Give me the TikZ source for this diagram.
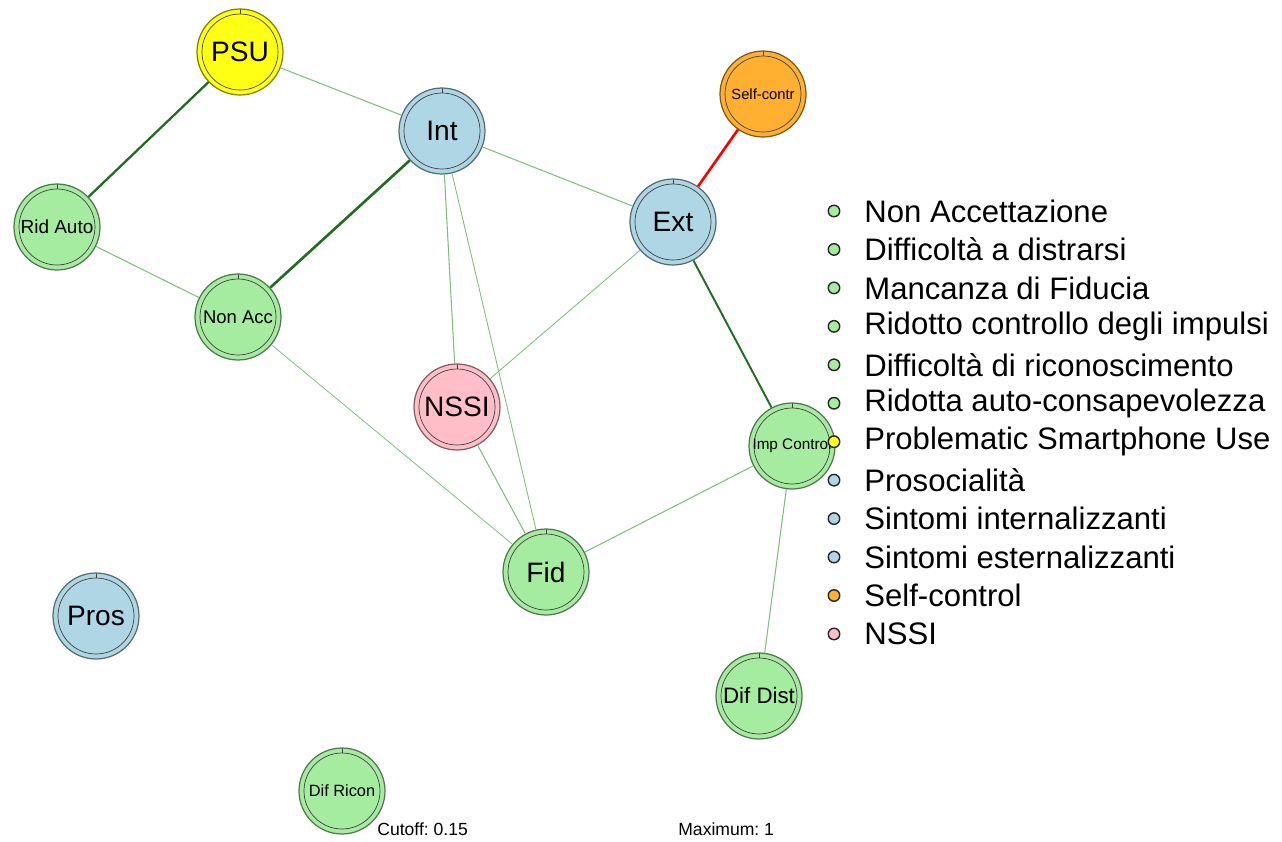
\documentclass[tikz,border=0pt]{standalone}
\usepackage{fontspec}
\setmainfont{Liberation Sans}
\usetikzlibrary{positioning}
\definecolor{symgreen}{RGB}{166, 236, 160}
\definecolor{symblue}{RGB}{174, 214, 228}
\definecolor{psuyellow}{RGB}{255, 255, 20}
\definecolor{selforange}{RGB}{255, 176, 48}
\definecolor{nssipink}{RGB}{255, 190, 200}
\definecolor{strongedge}{RGB}{30, 110, 30}
\definecolor{weakedge}{RGB}{125, 190, 125}
\frenchspacing

\begin{document}
\begin{tikzpicture}[
  x=0.02cm, y=-0.02cm,
  vnode/.style={circle, draw=#1!50!black, fill=#1, line width=0.7pt, minimum size=1.72cm, inner sep=0pt,
    path picture={
      \draw[black!75, line width=0.4pt] (path picture bounding box.center) circle (0.76cm);
      \draw[black!75, line width=0.4pt] (path picture bounding box.north) -- ++(0,-0.1cm);
    }},
  big/.style={font=\fontsize{16}{16}\selectfont},
  strong/.style={strongedge, line width=1.3pt},
  weak/.style={weakedge, line width=0.6pt},
  legdot/.style={circle, draw=black!85, fill=#1, line width=0.8pt, minimum size=0.23cm, inner sep=0pt},
  legtext/.style={anchor=west, font=\fontsize{17.7}{17.7}\selectfont, inner sep=0pt},
]
  \useasboundingbox (0,0) rectangle (1282,842);

  % nodes
  \node[vnode=psuyellow, big] (psu) at (240,52) {PSU};
  \node[vnode=symblue, big] (int) at (442,131) {Int};
  \node[vnode=selforange, font=\fontsize{8.4}{8.4}\selectfont] (selfc) at (763,94) {Self-contr};
  \node[vnode=symblue, big] (ext) at (673,222) {Ext};
  \node[vnode=symgreen, font=\fontsize{10.8}{10.8}\selectfont] (ridauto) at (57,227) {Rid Auto};
  \node[vnode=symgreen, font=\fontsize{10.5}{10.5}\selectfont] (nonacc) at (238,317) {Non Acc};
  \node[vnode=nssipink, big] (nssi) at (457,407) {NSSI};
  \node[vnode=symgreen, font=\fontsize{8.7}{8.7}\selectfont] (impc) at (792,446) {Imp Control};
  \node[vnode=symgreen, big] (fid) at (546,572) {Fid};
  \node[vnode=symblue, big] (pros) at (96,616) {Pros};
  \node[vnode=symgreen, font=\fontsize{12.7}{12.7}\selectfont] (difdist) at (759,696) {Dif Dist};
  \node[vnode=symgreen, font=\fontsize{9.3}{9.3}\selectfont] (difricon) at (342,791) {Dif Ricon};

  % edges
  \draw[strong] (psu) -- (ridauto);
  \draw[strong, line width=1.5pt] (int) -- (nonacc);
  \draw[strong, line width=1.1pt] (ext) -- (impc);
  \draw[red, line width=1.5pt] (selfc) -- (ext);
  \draw[weak] (psu) -- (int);
  \draw[weak] (int) -- (ext);
  \draw[weak] (int) -- (nssi);
  \draw[weak, line width=0.5pt] (int) -- (fid);
  \draw[weak] (ridauto) -- (nonacc);
  \draw[weak, line width=0.45pt] (nonacc) -- (fid);
  \draw[weak] (nssi) -- (fid);
  \draw[weak, line width=0.5pt] (ext) -- (nssi);
  \draw[weak] (impc) -- (fid);
  \draw[weak] (impc) -- (difdist);

  % legend
  \foreach \i/\c/\t in {0/symgreen/Non Accettazione, 1/symgreen/Difficoltà a distrarsi,
      2/symgreen/Mancanza di Fiducia, 3/symgreen/Ridotto controllo degli impulsi,
      4/symgreen/Difficoltà di riconoscimento, 5/symgreen/Ridotta auto-consapevolezza,
      6/psuyellow/Problematic Smartphone Use, 7/symblue/Prosocialità,
      8/symblue/Sintomi internalizzanti, 9/symblue/Sintomi esternalizzanti,
      10/selforange/Self-control, 11/nssipink/NSSI} {
    \node[legdot=\c] (dot\i) at (834,{211+38.45*\i}) {};
    \node[legtext] (leg\i) at (864,{211+38.45*\i}) {\t};
  }

  \node[anchor=west, font=\fontsize{10}{10}\selectfont, inner sep=0pt] (cutoff) at (377,829) {Cutoff: 0.15};
  \node[anchor=west, font=\fontsize{10}{10}\selectfont, inner sep=0pt] (maximum) at (678,829) {Maximum: 1};
\end{tikzpicture}
\end{document}
